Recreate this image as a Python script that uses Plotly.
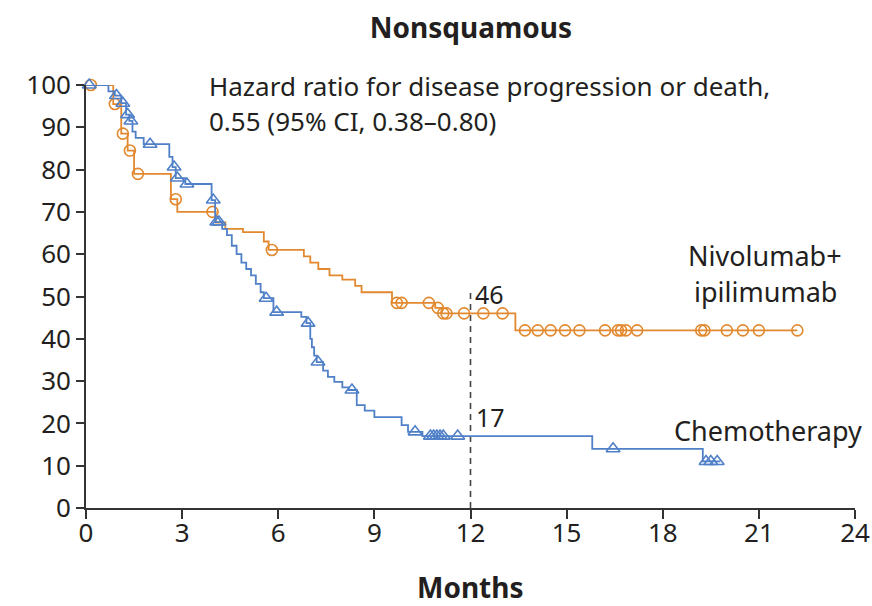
import numpy as np
import plotly.graph_objects as go

# Kaplan-Meier step curves: (time in months, percent progression-free after the step)
nivo_t = [0, 0.85, 1.1, 1.3, 1.5, 2.65, 2.85, 4.05, 4.35, 4.9, 5.55, 5.7, 6.8, 7.0,
          7.25, 7.6, 8.0, 8.4, 8.6, 9.55, 10.9, 11.1, 13.4, 22.2]
nivo_s = [100, 95.5, 88.5, 84.5, 79, 73, 70, 67.5, 66, 65.2, 63, 61, 59.5, 58,
          56.5, 55, 54, 52.5, 51, 48.5, 47.3, 46, 42, 42]
nivo_cens = [0.15, 0.9, 1.15, 1.37, 1.62, 2.8, 3.95, 5.8, 9.7, 9.85, 10.7, 10.98,
             11.15, 11.25, 11.8, 12.4, 13.0, 13.7, 14.1, 14.5, 14.95, 15.4, 16.2,
             16.6, 16.7, 16.85, 17.2, 19.2, 19.3, 20.0, 20.5, 21.0, 22.2]

chemo_t = [0, 0.7, 0.9, 1.1, 1.25, 1.35, 1.45, 1.55, 1.8, 2.6, 2.7, 2.8, 3.1, 3.92,
           4.03, 4.25, 4.4, 4.55, 4.7, 4.85, 5.0, 5.15, 5.3, 5.45, 5.55, 5.85, 6.72,
           6.88, 7.0, 7.05, 7.12, 7.2, 7.4, 7.55, 7.75, 8.0, 8.2, 8.45, 8.7, 9.0,
           9.85, 10.05, 10.5, 15.8, 19.25, 19.8]
chemo_s = [100, 98.5, 97.5, 95.7, 93, 91.5, 89, 87.5, 86, 83, 80.6, 78, 76.6, 72.8,
           67.6, 66, 64.5, 62, 60, 58, 56.5, 55, 53, 51, 49.6, 46.3, 45.2,
           43.7, 40, 38, 36, 34.5, 32.5, 31, 29.8, 28.5, 27.9, 24.3, 23, 21.5,
           19.6, 18, 17, 14, 11, 11]
chemo_cens = [0.1, 0.95, 1.15, 1.3, 1.4, 2.0, 2.75, 2.85, 3.15, 3.97, 4.08, 4.15,
              5.62, 5.95, 6.93, 7.24, 8.3, 10.27, 10.75, 10.85, 10.95, 11.05, 11.15,
              11.6, 16.45, 19.35, 19.5, 19.7]

y_ticks = [0, 10, 20, 30, 40, 50, 60, 70, 80, 90, 100]
x_ticks = [0, 3, 6, 9, 12, 15, 18, 21, 24]
landmark_month = 12
nivo_at_12 = 46
chemo_at_12 = 17

ORANGE = "#E2892F"
BLUE = "#5080C8"
INK = "#231F20"
FONT = "Noto Sans"


def step_value(times, surv, at):
    times = np.asarray(times)
    surv = np.asarray(surv)
    idx = np.searchsorted(times, np.asarray(at), side="right") - 1
    return surv[idx]


def label(x, y, text, size=27, xanchor="center", xref="x", yref="y", bold=False):
    fig.add_annotation(x=x, y=y, xref=xref, yref=yref, xanchor=xanchor, yanchor="middle",
                       text=f"<b>{text}</b>" if bold else text, showarrow=False,
                       font=dict(family=FONT, size=size, color=INK))


fig = go.Figure()

fig.add_trace(go.Scatter(x=nivo_t, y=nivo_s, mode="lines", line_shape="hv",
                         line=dict(color=ORANGE, width=1.8), cliponaxis=False,
                         hoverinfo="skip", showlegend=False))
fig.add_trace(go.Scatter(x=nivo_cens, y=step_value(nivo_t, nivo_s, nivo_cens),
                         mode="markers", cliponaxis=False, showlegend=False,
                         marker=dict(symbol="circle-open", size=11, color=ORANGE,
                                     line=dict(width=1.6, color=ORANGE))))

fig.add_trace(go.Scatter(x=chemo_t, y=chemo_s, mode="lines", line_shape="hv",
                         line=dict(color=BLUE, width=1.8), cliponaxis=False,
                         hoverinfo="skip", showlegend=False))
fig.add_trace(go.Scatter(x=chemo_cens, y=step_value(chemo_t, chemo_s, chemo_cens),
                         mode="markers", cliponaxis=False, showlegend=False,
                         marker=dict(symbol="triangle-up-open", size=12, color=BLUE,
                                     line=dict(width=1.6, color=BLUE))))

# dashed landmark at 12 months
fig.add_shape(type="line", x0=landmark_month, x1=landmark_month, y0=0, y1=51,
              xref="x", yref="y", line=dict(color="#444444", width=1.6, dash="6px,5px"),
              layer="below")

fig.add_annotation(x=landmark_month, y=nivo_at_12, xref="x", yref="y",
                   text=str(nivo_at_12), showarrow=False, xanchor="left", yanchor="bottom",
                   xshift=2, yshift=0, font=dict(family=FONT, size=25, color=INK))
fig.add_annotation(x=landmark_month, y=chemo_at_12, xref="x", yref="y",
                   text=str(chemo_at_12), showarrow=False, xanchor="left", yanchor="bottom",
                   xshift=3, yshift=0, font=dict(family=FONT, size=25, color=INK))

label(3.78, 99.7, "Hazard ratio for disease progression or death,", size=26, xanchor="left")
label(3.78, 91.5, "0.55 (95% CI, 0.38\u20130.80)", size=26, xanchor="left")
label(21.2, 59.8, "Nivolumab+")
label(21.2, 51.3, "ipilimumab")
label(21.3, 18.4, "Chemotherapy")
label(0.5, -0.187, "Months", size=28, xref="paper", yref="paper", bold=True)

fig.update_layout(
    width=872, height=606,
    margin=dict(l=86, r=17, t=85, b=98),
    paper_bgcolor="white", plot_bgcolor="white",
    title=dict(text="<b>Nonsquamous</b>", x=0.54, xanchor="center", y=0.953,
               yanchor="middle", font=dict(family=FONT, size=28, color=INK)),
    xaxis=dict(range=[0, 24], tickvals=x_ticks, ticktext=[str(v) for v in x_ticks],
               showgrid=False, zeroline=False, showline=True, linecolor="#333333",
               linewidth=1.8, ticks="outside", ticklen=9, tickwidth=1.6,
               tickcolor="#333333", tickfont=dict(family=FONT, size=26, color=INK),
               ticklabelstandoff=-8, automargin=False),
    yaxis=dict(range=[0, 100], tickvals=y_ticks, ticktext=[str(v) for v in y_ticks],
               showgrid=False, zeroline=False, showline=True, linecolor="#333333",
               linewidth=1.8, ticks="outside", ticklen=8, tickwidth=1.6,
               tickcolor="#333333", tickfont=dict(family=FONT, size=26, color=INK),
               automargin=False),
)

fig.write_html("out.html")
